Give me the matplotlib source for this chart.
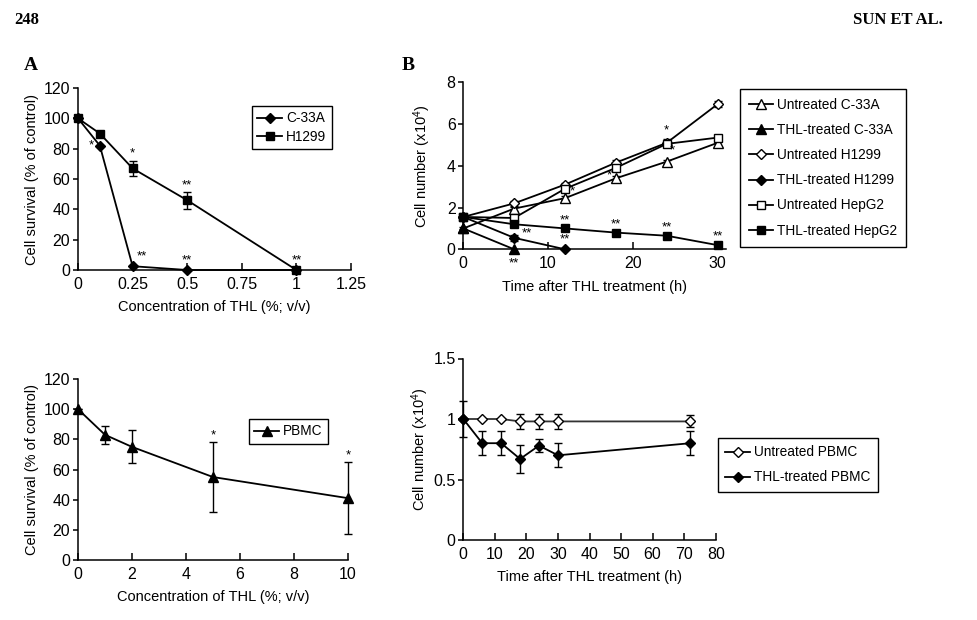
import matplotlib
matplotlib.use("Agg")
import matplotlib.pyplot as plt
from matplotlib.lines import Line2D

plt.rcParams['font.family'] = ['Liberation Sans', 'DejaVu Sans']
plt.rcParams['mathtext.fontset'] = 'custom'
plt.rcParams['mathtext.rm'] = 'Liberation Sans'
plt.rcParams['mathtext.it'] = 'Liberation Sans:italic'
plt.rcParams['axes.linewidth'] = 1.1

# ---------------- data ----------------
# Panel A (top): concentration response
concA = [0, 0.1, 0.25, 0.5, 1.0]
c33a_surv = [100, 82, 2.5, 0, 0]
h1299_surv = [100, 90, 67, 46, 0]
h1299_err = [0, 0, 5, 5.5, 0]

# Panel A (bottom): PBMC
concP = [0, 1, 2, 5, 10]
pbmc_surv = [100, 83, 75, 55, 41]
pbmc_err = [0, 6, 11, 23, 24]

# Panel B (top): time course
time6 = [0, 6, 12, 18, 24, 30]
unt_c33a = [1.0, 1.95, 2.45, 3.4, 4.2, 5.1]
unt_c33a_err = [0.05, 0.1, 0.1, 0.1, 0.1, 0.2]
thl_c33a_t = [0, 6]
thl_c33a = [1.0, 0.0]
unt_h1299 = [1.55, 2.2, 3.1, 4.15, 5.1, 6.95]
unt_h1299_err = [0.1, 0.12, 0.1, 0.15, 0.2, 0.15]
thl_h1299_t = [0, 6, 12]
thl_h1299 = [1.55, 0.55, 0.0]
thl_h1299_err = [0.1, 0.15, 0.0]
unt_hepg2 = [1.55, 1.5, 2.9, 3.9, 5.05, 5.35]
unt_hepg2_err = [0.1, 0.05, 0.1, 0.1, 0.1, 0.1]
thl_hepg2 = [1.55, 1.2, 1.0, 0.8, 0.65, 0.2]

# Panel B (bottom): PBMC time course
timeP = [0, 6, 12, 18, 24, 30, 72]
unt_pbmc = [1.0, 1.0, 1.0, 0.98, 0.98, 0.98, 0.98]
unt_pbmc_err = [0.0, 0.0, 0.0, 0.06, 0.06, 0.06, 0.05]
thl_pbmc = [1.0, 0.8, 0.8, 0.67, 0.78, 0.7, 0.8]
thl_pbmc_err = [0.15, 0.1, 0.1, 0.115, 0.055, 0.1, 0.1]

W, H = 978, 620
fig = plt.figure(figsize=(W / 100, H / 100), dpi=100)


def ax_px(l, t, r, b):
    return fig.add_axes([l / W, 1 - b / H, (r - l) / W, (b - t) / H])


def style(ax):
    ax.spines['top'].set_visible(False)
    ax.spines['right'].set_visible(False)
    ax.tick_params(axis='y', direction='out', length=3.5, width=1.1, labelsize=11.5, pad=2)
    ax.tick_params(axis='x', direction='in', length=5, width=1.1, labelsize=11.5, pad=5)
    ax.patch.set_alpha(0)


def ylabel_at(ax, text, right_px, left_px, width_px):
    ax.set_ylabel(text, fontsize=FS)
    ax.yaxis.set_label_coords((right_px - left_px) / width_px, 0.5)


FS = 10.5
LFS = 9.8
LW = 1.3
ekw = dict(ecolor='black', elinewidth=1.0, capsize=3, capthick=1.0)
SFS = 9.5


def stars(ax, xs, ys, txt, dx, dy):
    for x, y in zip(xs, ys):
        ax.annotate(txt, (x, y), xytext=(dx, dy), textcoords='offset points',
                    ha='center', va='center', fontsize=SFS, annotation_clip=False)


def leg(ax, anchor, **kw):
    lg = ax.legend(loc='upper left', bbox_to_anchor=anchor, bbox_transform=fig.transFigure,
                   fontsize=LFS, frameon=True, fancybox=False, edgecolor='black',
                   framealpha=1, borderaxespad=0, handletextpad=0.3, **kw)
    lg.get_frame().set_linewidth(1.0)
    return lg


def clipoff(container):
    for a in container.get_children():
        a.set_clip_on(False)

# ---------- Panel A top ----------
ax1 = ax_px(78, 88, 351, 270)
style(ax1)
ax1.plot(concA, c33a_surv, color='black', lw=LW, marker='D', ms=5.5, mfc='black', mec='black',
         clip_on=False, zorder=3)
e = ax1.errorbar(concA, h1299_surv, yerr=h1299_err, color='black', lw=LW, marker='s', ms=6, mfc='black',
                 mec='black', **ekw)
clipoff(e)
ax1.set_xlim(0, 1.25)
ax1.set_ylim(0, 120)
ax1.set_xticks([0, 0.25, 0.5, 0.75, 1, 1.25])
ax1.set_xticklabels(['0', '0.25', '0.5', '0.75', '1', '1.25'])
ax1.set_yticks(range(0, 121, 20))
ax1.set_xlabel('Concentration of THL (%; v/v)', fontsize=FS, labelpad=6)
ylabel_at(ax1, 'Cell survival (% of control)', 39, 78, 273)
stars(ax1, [concA[1]], [c33a_surv[1]], '*', -6, 0)
stars(ax1, [concA[2]], [h1299_surv[2]], '*', 0, 11)
stars(ax1, [concA[3]], [h1299_surv[3]], '**', 0, 11)
stars(ax1, [concA[2]], [c33a_surv[2]], '**', 7, 7)
stars(ax1, [concA[3]], [c33a_surv[3]], '**', 0, 7)
stars(ax1, [concA[4]], [c33a_surv[4]], '**', 0, 7)
h = [Line2D([], [], color='black', lw=LW, marker='D', ms=5.5),
     Line2D([], [], color='black', lw=LW, marker='s', ms=6)]
leg(ax1, (252 / W, 1 - 106 / H), handles=h, labels=['C-33A', 'H1299'], handlelength=1.8,
    labelspacing=0.3, borderpad=0.4)

# ---------- Panel A bottom ----------
ax2 = ax_px(78, 379, 348, 560)
style(ax2)
e = ax2.errorbar(concP, pbmc_surv, yerr=pbmc_err, color='black', lw=LW, marker='^', ms=6.5, mfc='black',
                 mec='black', **ekw)
clipoff(e)
ax2.set_xlim(0, 10)
ax2.set_ylim(0, 120)
ax2.set_xticks(range(0, 11, 2))
ax2.set_yticks(range(0, 121, 20))
ax2.set_xlabel('Concentration of THL (%; v/v)', fontsize=FS, labelpad=6)
ylabel_at(ax2, 'Cell survival (% of control)', 39, 78, 270)
for i in (3, 4):
    ax2.annotate('*', (concP[i], pbmc_surv[i] + pbmc_err[i]), xytext=(0, 5), textcoords='offset points',
                 ha='center', va='center', fontsize=SFS, annotation_clip=False)
h = [Line2D([], [], color='black', lw=LW, marker='^', ms=6.5)]
leg(ax2, (249 / W, 1 - 419 / H), handles=h, labels=['PBMC'], handlelength=1.8, borderpad=0.4)

# ---------- Panel B top ----------
ax3 = ax_px(463.3, 82.3, 726, 249.3)
style(ax3)
e = ax3.errorbar(time6, unt_c33a, yerr=unt_c33a_err, color='black', lw=LW, marker='^', ms=6.5, mfc='white',
                 mec='black', **ekw)
clipoff(e)
ax3.plot(thl_c33a_t, thl_c33a, color='black', lw=LW, marker='^', ms=6.5, mfc='black', mec='black',
         clip_on=False, zorder=3)
e = ax3.errorbar(time6, unt_h1299, yerr=unt_h1299_err, color='black', lw=LW, marker='D', ms=5.5,
                 mfc='white', mec='black', **ekw)
clipoff(e)
e = ax3.errorbar(thl_h1299_t, thl_h1299, yerr=thl_h1299_err, color='black', lw=LW, marker='D', ms=5.5,
                 mfc='black', mec='black', **ekw)
clipoff(e)
e = ax3.errorbar(time6, unt_hepg2, yerr=unt_hepg2_err, color='black', lw=LW, marker='s', ms=5.5,
                 mfc='white', mec='black', **ekw)
clipoff(e)
ax3.plot(time6, thl_hepg2, color='black', lw=LW, marker='s', ms=5.5, mfc='black', mec='black',
         clip_on=False, zorder=3)
ax3.set_xlim(0, 31)
ax3.set_ylim(0, 8)
ax3.set_xticks([0, 10, 20, 30])
ax3.set_yticks([0, 2, 4, 6, 8])
ax3.set_xlabel('Time after THL treatment (h)', fontsize=FS, labelpad=6)
ylabel_at(ax3, 'Cell number (x10$^{4}$)', 433, 463.3, 262.7)
stars(ax3, [time6[4]], [unt_h1299[4]], '*', 0, 9)
stars(ax3, [time6[4]], [unt_c33a[4]], '*', 4, 8)
stars(ax3, [time6[3]], [unt_c33a[3]], '*', -5, 2)
stars(ax3, [time6[2]], [unt_c33a[2]], '*', 5, 5)
stars(ax3, time6[2:], thl_hepg2[2:], '**', 0, 6)
stars(ax3, [thl_h1299_t[1]], [thl_h1299[1]], '**', 9, 3)
stars(ax3, [thl_h1299_t[2]], [thl_h1299[2]], '**', 0, 7)
stars(ax3, [thl_c33a_t[1]], [thl_c33a[1]], '**', 0, -10)
h = [Line2D([], [], color='black', lw=LW, marker='^', ms=6.5, mfc='white'),
     Line2D([], [], color='black', lw=LW, marker='^', ms=6.5, mfc='black'),
     Line2D([], [], color='black', lw=LW, marker='D', ms=5.5, mfc='white'),
     Line2D([], [], color='black', lw=LW, marker='D', ms=5.5, mfc='black'),
     Line2D([], [], color='black', lw=LW, marker='s', ms=5.5, mfc='white'),
     Line2D([], [], color='black', lw=LW, marker='s', ms=5.5, mfc='black')]
labels = ['Untreated C-33A', 'THL-treated C-33A', 'Untreated H1299', 'THL-treated H1299',
          'Untreated HepG2', 'THL-treated HepG2']
leg(ax3, (740 / W, 1 - 89 / H), handles=h, labels=labels, handlelength=1.8, labelspacing=0.82,
    borderpad=0.65)

# ---------- Panel B bottom ----------
ax4 = ax_px(463.3, 358.5, 715.7, 540)
style(ax4)
e = ax4.errorbar(timeP, unt_pbmc, yerr=unt_pbmc_err, color='#333333', lw=LW, marker='D', ms=5, mfc='white',
                 mec='black', **ekw)
clipoff(e)
e = ax4.errorbar(timeP, thl_pbmc, yerr=thl_pbmc_err, color='black', lw=LW, marker='D', ms=5.5, mfc='black',
                 mec='black', **ekw)
clipoff(e)
ax4.set_xlim(0, 80)
ax4.set_ylim(0, 1.5)
ax4.set_xticks(range(0, 81, 10))
ax4.set_yticks([0, 0.5, 1, 1.5])
ax4.set_yticklabels(['0', '0.5', '1', '1.5'])
ax4.set_xlabel('Time after THL treatment (h)', fontsize=FS, labelpad=6)
ylabel_at(ax4, 'Cell number (x10$^{4}$)', 431, 463.3, 252.4)
h = [Line2D([], [], color='black', lw=LW, marker='D', ms=5, mfc='white'),
     Line2D([], [], color='black', lw=LW, marker='D', ms=5.5, mfc='black')]
leg(ax4, (718 / W, 1 - 438 / H), handles=h, labels=['Untreated PBMC', 'THL-treated PBMC'],
    handlelength=1.8, labelspacing=0.8, borderpad=0.55)

# ---------- header and panel letters ----------
serif = ['Liberation Serif', 'DejaVu Serif']
fig.text(14 / W, 1 - 20 / H, '248', family=serif, fontweight='bold', fontsize=12, ha='left', va='center')
fig.text(943 / W, 1 - 20 / H, 'SUN ET AL.', family=serif, fontweight='bold', fontsize=12, ha='right',
         va='center')
fig.text(24 / W, 1 - 66 / H, 'A', family=serif, fontweight='bold', fontsize=14, ha='left', va='center')
fig.text(402 / W, 1 - 66 / H, 'B', family=serif, fontweight='bold', fontsize=14, ha='left', va='center')

fig.savefig('out.png', dpi=100)
